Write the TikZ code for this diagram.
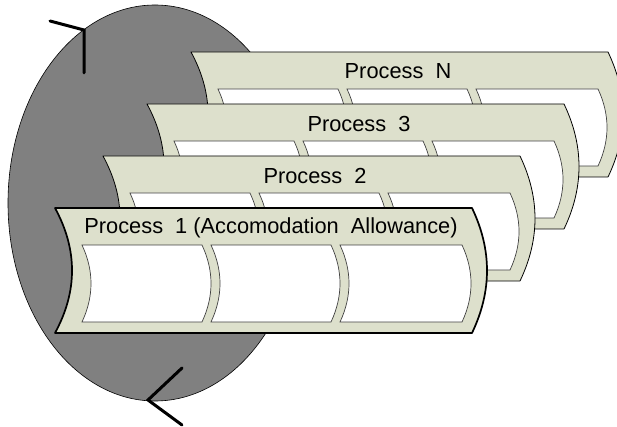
\documentclass[tikz,border=0pt]{standalone}
\usepackage{fontspec}
\setmainfont{Liberation Sans}
\definecolor{panelfill}{RGB}{221,224,204}
\definecolor{ellfill}{RGB}{128,128,128}
\newcommand{\drawprocpanel}[5]{%
  % #1 = x of top-left, #2 = y of top-left, #3 = name, #4 = label, #5 = text offset
  \begin{scope}[shift={(#1,#2)}]
    \path[panelshape,#3style] (0,0) -- (417,0)
      .. controls (437,41.7) and (437,83.3) .. (417,125)
      -- (0,125)
      .. controls (22.7,83.3) and (22.7,41.7) .. (0,0) -- cycle;
    \foreach \xl/\xr in {27/147,156/276,285/407}{
      \path[cellshape] (\xl,37) -- (\xr,37)
        .. controls (\xr+12,62.7) and (\xr+12,88.3) .. (\xr,114)
        -- (\xl,114)
        .. controls (\xl+12,88.3) and (\xl+12,62.7) .. (\xl,37) -- cycle;
    }
    \node[title] (#3) at (#5,19.5) {#4};
  \end{scope}}
\begin{document}
\begin{tikzpicture}[x=1pt,y=-1pt,
  panelshape/.style={fill=panelfill,draw=black,line width=0.8pt,line join=round},
  pNstyle/.style={},
  p3style/.style={},
  p2style/.style={},
  p1style/.style={line width=1.7pt},
  cellshape/.style={fill=white,draw=black!75,line width=0.7pt},
  looparrow/.style={draw=black,line width=3pt,line cap=round,line join=miter},
  title/.style={font=\fontsize{21.8}{24}\selectfont,text=black,inner sep=0pt,anchor=center}]
\useasboundingbox (0,0) rectangle (617,427);
\fill[white] (0,0) rectangle (617,427);
\draw[fill=ellfill,draw=black,line width=0.6pt] (155,203) ellipse [x radius=147, y radius=198];
\coordinate (topa) at (50,21);
\coordinate (topb) at (84,30);
\coordinate (topc) at (84,73);
\coordinate (bota) at (182,368);
\coordinate (botb) at (148,400);
\coordinate (botc) at (182,425);
\draw[looparrow] (topa) -- (topb) -- (topc);
\draw[looparrow] (bota) -- (botb) -- (botc);
\drawprocpanel{191}{52}{pN}{Process\ \ N}{207}
\drawprocpanel{147}{104}{p3}{Process\ \ 3}{212}
\drawprocpanel{103}{156}{p2}{Process\ \ 2}{212}
\drawprocpanel{55}{208}{p1}{Process\ \ 1 (Accomodation\ \ Allowance)}{216}
\end{tikzpicture}
\end{document}
